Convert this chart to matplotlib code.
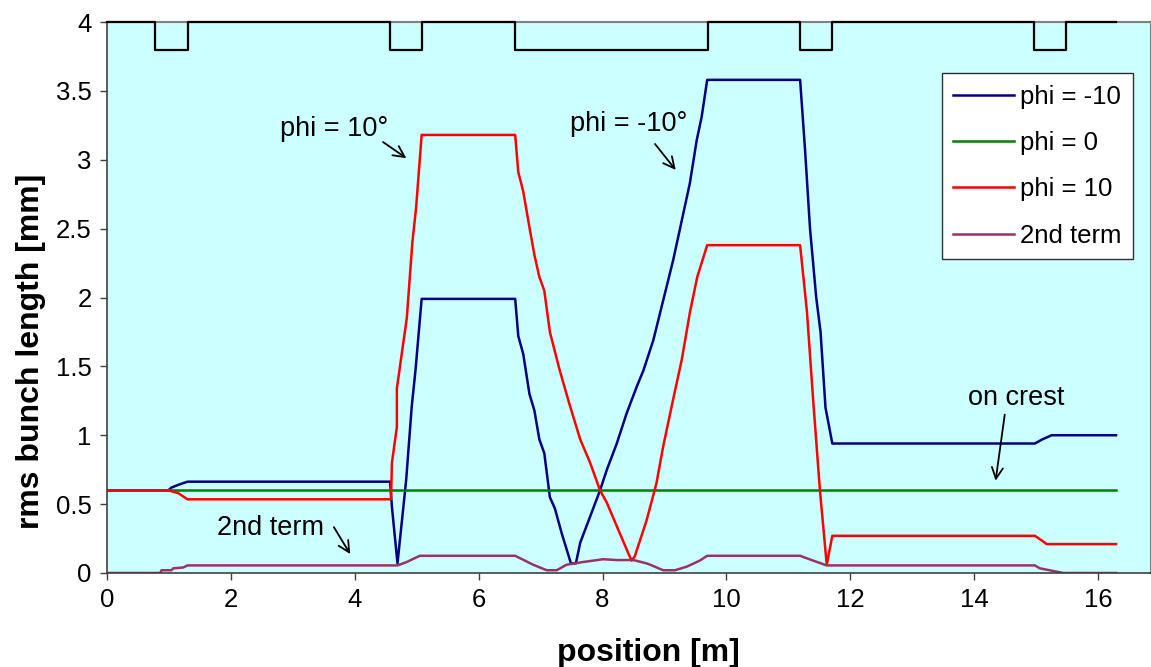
import numpy as np
import matplotlib.pyplot as plt
from matplotlib.ticker import FixedLocator, FuncFormatter

plt.rcParams['font.family'] = ['Liberation Sans', 'DejaVu Sans']

# --- data ---
x_minus10 = [0, 0.99, 1.04, 1.15, 1.30, 4.57, 4.60, 4.69, 4.83, 4.92, 4.98, 5.08,
             6.59, 6.64, 6.72, 6.82, 6.90, 6.98, 7.06, 7.15, 7.23, 7.34, 7.49, 7.57,
             7.64, 7.80, 7.96, 8.07, 8.23, 8.39, 8.55, 8.66, 8.82, 8.98, 9.14, 9.28,
             9.41, 9.52, 9.60, 9.69, 11.19, 11.27, 11.35, 11.45, 11.52, 11.60, 11.71,
             14.98, 15.10, 15.25, 16.29]
y_minus10 = [0.6, 0.6, 0.62, 0.64, 0.663, 0.663, 0.48, 0.07, 0.675, 1.21, 1.47, 1.99,
             1.99, 1.72, 1.59, 1.30, 1.18, 0.97, 0.87, 0.55, 0.47, 0.29, 0.07, 0.07,
             0.22, 0.41, 0.60, 0.75, 0.94, 1.16, 1.35, 1.47, 1.69, 1.98, 2.27, 2.56,
             2.83, 3.14, 3.31, 3.58, 3.58, 3.07, 2.5, 2.0, 1.75, 1.2, 0.94,
             0.94, 0.97, 1.0, 1.0]

x_zero = [0, 16.29]
y_zero = [0.6, 0.6]

x_plus10 = [0, 0.99, 1.15, 1.30, 4.585, 4.60, 4.68, 4.68, 4.84, 4.93, 4.99, 5.08,
            6.59, 6.64, 6.72, 6.82, 6.90, 6.98, 7.06, 7.15, 7.31, 7.47, 7.64, 7.80,
            7.96, 8.07, 8.23, 8.42, 8.47, 8.52, 8.71, 8.87, 8.98, 9.14, 9.28, 9.41,
            9.53, 9.69, 11.19, 11.30, 11.40, 11.51, 11.62, 11.71, 14.98, 15.08, 15.17,
            16.29]
y_plus10 = [0.6, 0.6, 0.58, 0.535, 0.535, 0.80, 1.06, 1.34, 1.85, 2.40, 2.65, 3.18,
            3.18, 2.91, 2.77, 2.51, 2.31, 2.15, 2.05, 1.75, 1.47, 1.22, 0.97, 0.80,
            0.60, 0.51, 0.34, 0.14, 0.09, 0.12, 0.38, 0.65, 0.92, 1.26, 1.55, 1.89,
            2.15, 2.38, 2.38, 1.9, 1.26, 0.6, 0.06, 0.27, 0.27, 0.24, 0.21,
            0.21]

x_2nd = [0, 0.86, 0.88, 1.04, 1.07, 1.23, 1.30, 4.69, 4.84, 5.05, 6.59, 6.67, 6.88,
         7.10, 7.26, 7.42, 7.69, 8.01, 8.23, 8.50, 8.71, 8.77, 8.98, 9.17, 9.36, 9.57,
         9.69, 11.19, 11.40, 11.62, 14.98, 15.06, 15.25, 15.44, 16.29]
y_2nd = [0, 0, 0.02, 0.02, 0.034, 0.04, 0.055, 0.055, 0.08, 0.125, 0.125, 0.107, 0.06,
         0.02, 0.02, 0.06, 0.08, 0.10, 0.094, 0.094, 0.07, 0.06, 0.02, 0.02, 0.046, 0.09,
         0.125, 0.125, 0.09, 0.055, 0.055, 0.034, 0.017, 0, 0]

# magnet layout drawn along the top
x_layout = [0, 0.78, 0.78, 1.31, 1.31, 4.57, 4.57, 5.09, 5.09, 6.58, 6.58, 9.70,
            9.70, 11.19, 11.19, 11.71, 11.71, 14.97, 14.97, 15.49, 15.49, 16.29]
y_layout = [4, 4, 3.8, 3.8, 4, 4, 3.8, 3.8, 4, 4, 3.8, 3.8,
            4, 4, 3.8, 3.8, 4, 4, 3.8, 3.8, 4, 4]

x_ticks = [0, 2, 4, 6, 8, 10, 12, 14, 16]
y_ticks = [0, 0.5, 1, 1.5, 2, 2.5, 3, 3.5, 4]

# --- plot ---
fig = plt.figure(figsize=(11.51, 6.67), dpi=100)
ax = fig.add_axes([107 / 1151, 1 - 573 / 667, 1044 / 1151, 551 / 667])
ax.set_facecolor('#CCFFFF')

lw = 1.8
ax.plot(x_minus10, y_minus10, color='#000080', lw=lw, label='phi = -10')
ax.plot(x_zero, y_zero, color='#008000', lw=lw, label='phi = 0')
ax.plot(x_plus10, y_plus10, color='#FF0000', lw=lw, label='phi = 10')
ax.plot(x_2nd, y_2nd, color='#993366', lw=lw, label='2nd term')
ax.plot(x_layout, y_layout, color='black', lw=1.6, clip_on=False, zorder=5)

ax.set_xlim(0, 16.855)
ax.set_ylim(0, 4)
ax.xaxis.set_major_locator(FixedLocator(x_ticks))
ax.yaxis.set_major_locator(FixedLocator(y_ticks))
ax.yaxis.set_major_formatter(FuncFormatter(lambda v, p: f'{v:g}'))
ax.tick_params(direction='out', length=5, width=1, labelsize=18.5, color='#404040', pad=6)

for side in ['top', 'right']:
    ax.spines[side].set_color('#808080')
    ax.spines[side].set_linewidth(1.5)
for side in ['left', 'bottom']:
    ax.spines[side].set_color('#404040')
    ax.spines[side].set_linewidth(1.2)

ax.set_xlabel('position [m]', fontsize=23, fontweight='bold')
ax.set_ylabel('rms bunch length [mm]', fontsize=23, fontweight='bold')
ax.xaxis.set_label_coords(0.519, -0.118)
ax.yaxis.set_label_coords(-0.058, 0.403)

ax.legend(loc='upper right', bbox_to_anchor=(0.983, 0.907), borderaxespad=0,
          fontsize=18.5, frameon=True, fancybox=False, edgecolor='#303030',
          framealpha=1, handlelength=2.37, handletextpad=0.26, labelspacing=0.87,
          borderpad=0.44)

arrow = dict(arrowstyle='->', color='black', lw=1.3, mutation_scale=20)
ax.text(2.79, 3.22, 'phi = 10°', fontsize=19.5, va='center')
ax.annotate('', xy=(4.87, 3.0), xytext=(4.42, 3.14), arrowprops=arrow)
ax.text(7.475, 3.26, 'phi = -10°', fontsize=19.5, va='center')
ax.annotate('', xy=(9.21, 2.91), xytext=(8.82, 3.13), arrowprops=arrow)
ax.text(13.90, 1.27, 'on crest', fontsize=19.5, va='center')
ax.annotate('', xy=(14.34, 0.65), xytext=(14.50, 1.17), arrowprops=arrow)
ax.text(1.78, 0.33, '2nd term', fontsize=19.5, va='center')
ax.annotate('', xy=(3.95, 0.12), xytext=(3.64, 0.35), arrowprops=arrow)

fig.savefig('out.png', dpi=100)
